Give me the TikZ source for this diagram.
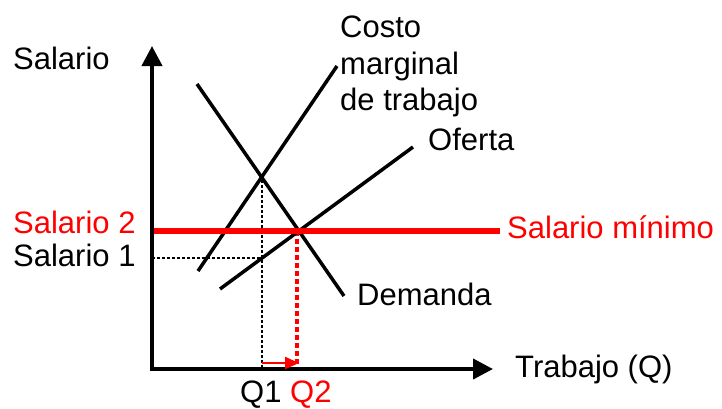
\documentclass[tikz,border=0pt]{standalone}
\usepackage{fontspec}
\setmainfont{Liberation Sans}
\usepackage{tikz}
\usetikzlibrary{arrows.meta, calc, positioning}
\usepackage{xcolor}
\definecolor{WageRed}{RGB}{255, 0, 0}
\tikzset{%
  axis/.style={%
    line width=4pt,%
    -{Triangle[length=20pt, width=20pt]}%
  },
  curve/.style={%
    line width=3.5pt,%
  },
  minwage/.style={%
    color=WageRed,%
    line width=6pt,%
  },
  guide/.style={%
    dash pattern=on 2.5pt off 2.5pt,%
    line width=2.5pt,%
  },
  redguide/.style={%
    dash pattern=on 5pt off 3pt,%
    color=WageRed,%
    line width=3.5pt,%
  },
  shift_arrow/.style={%
    color=WageRed,%
    line width=2.5pt,%
    -{Triangle[length=14pt, width=12pt]}%
  },
  label/.style={%
    font={\fontsize{31}{36.5}\selectfont},%
    inner sep=0pt,%
    anchor=base west,%
  },
}
\begin{document}
\begin{tikzpicture}[x=1pt, y=-1pt]
  \useasboundingbox (0,0) rectangle (722,408);

  % axes
  \coordinate (O) at (152,369);
  \coordinate (Ytop) at (152,46);
  \coordinate (Xend) at (493,369);

  % demand, marginal cost, supply
  \coordinate (D1) at (197,84);
  \coordinate (D2) at (344,296);
  \coordinate (M1) at (198,271);
  \coordinate (M2) at (337,66);
  \coordinate (S1) at (220,289);
  \coordinate (S2) at (413,147);

  % minimum wage
  \coordinate (W1) at (152,231);
  \coordinate (W2) at (500,231);

  % intersections
  \coordinate (A) at (262,180);
  \coordinate (B) at (297,231);
  \coordinate (C) at (262,258);
  \coordinate (Q1b) at (262,369);
  \coordinate (Q2b) at (297,369);
  \coordinate (W1b) at (152,258);
  \coordinate (R1) at (262,363);
  \coordinate (R2) at (299,363);

  \draw[guide] (W1b) -- (C);
  \draw[guide] (A) -- (Q1b);
  \draw[redguide] (B) -- (Q2b);

  \draw[curve] (D1) -- (D2);
  \draw[curve] (M1) -- (M2);
  \draw[curve] (S1) -- (S2);

  \draw[minwage] (W1) -- (W2);

  \draw[axis] ([yshift=2pt]O) -- (Ytop);
  \draw[axis] ([xshift=-2pt]O) -- (Xend);

  \draw[shift_arrow] (R1) -- (R2);

  % labels
  \node[label] (salario) at (13,69) {Salario};
  \node[label, align=left, anchor=north west] (costo) at (340,16)
    {Costo\\marginal\\de trabajo};
  \node[label] (oferta) at (428,150) {Oferta};
  \node[label, color=WageRed] (salario2) at (13,233) {Salario 2};
  \node[label] (salario1) at (13,266) {Salario 1};
  \node[label, color=WageRed] (minimo) at (507,238) {Salario mínimo};
  \node[label] (demanda) at (357,305) {Demanda};
  \node[label] (trabajo) at (515,377) {Trabajo (Q)};
  \node[label] (q1) at (240,402) {Q1};
  \node[label, color=WageRed] (q2) at (290,402) {Q2};

\end{tikzpicture}
\end{document}
